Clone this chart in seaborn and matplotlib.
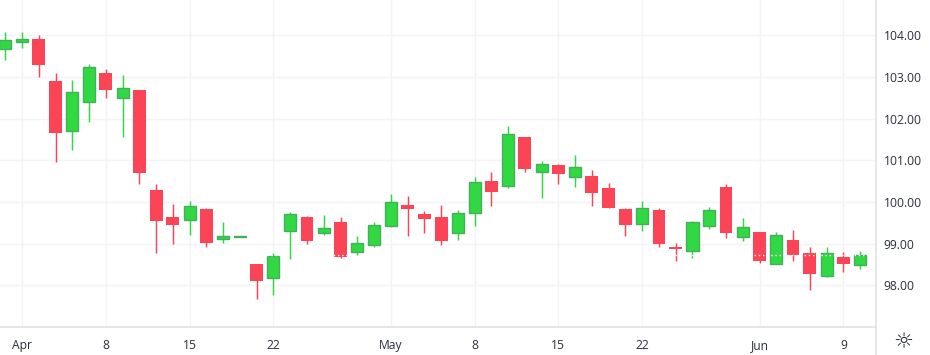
import numpy as np
import pandas as pd
import matplotlib
matplotlib.use('Agg')
import matplotlib.pyplot as plt
import seaborn as sns

# --- Data ---
highs = [104.08, 104.08, 104.01, 103.10, 102.93, 103.31, 103.19, 103.05, 102.69, 100.43,
         99.95, 100.02, 99.86, 99.52, 99.18, 98.51, 98.78, 99.76, 99.66, 99.69,
         99.64, 99.18, 99.52, 100.19, 100.14, 99.78, 99.93, 99.81, 100.60, 100.72,
         101.82, 101.56, 100.98, 100.91, 101.13, 100.77, 100.46, 99.86, 100.02, 99.86,
         99.02, 99.54, 99.88, 100.43, 99.62, 99.28, 99.28, 99.33, 98.92, 98.92,
         98.80, 98.82]
body_tops = [103.89, 103.91, 103.91, 102.90, 102.64, 103.24, 103.10, 102.74, 102.69, 100.29,
             99.64, 99.90, 99.83, 99.18, 99.18, 98.51, 98.70, 99.71, 99.64, 99.38,
             99.52, 99.02, 99.45, 100.00, 99.93, 99.71, 99.64, 99.74, 100.48, 100.50,
             101.63, 101.56, 100.91, 100.89, 100.84, 100.62, 100.34, 99.83, 99.86, 99.81,
             98.92, 99.52, 99.81, 100.36, 99.40, 99.28, 99.21, 99.09, 98.78, 98.78,
             98.68, 98.73]
body_bottoms = [103.68, 103.85, 103.29, 101.66, 101.71, 102.41, 102.69, 102.50, 100.70, 99.54,
                99.45, 99.58, 99.02, 99.11, 99.16, 98.10, 98.18, 99.31, 99.06, 99.26,
                98.68, 98.80, 98.97, 99.42, 99.83, 99.59, 99.06, 99.26, 99.74, 100.24,
                100.38, 100.79, 100.72, 100.67, 100.60, 100.22, 99.86, 99.45, 99.48, 98.99,
                98.87, 98.82, 99.42, 99.26, 99.16, 98.58, 98.51, 98.73, 98.27, 98.22,
                98.51, 98.48]
lows = [103.41, 103.70, 103.00, 100.96, 101.25, 101.92, 102.50, 101.56, 100.43, 98.78,
        98.99, 99.21, 98.92, 99.02, 99.16, 97.67, 97.77, 98.63, 98.99, 99.21,
        98.66, 98.73, 98.92, 99.40, 99.18, 99.26, 98.97, 99.09, 99.42, 99.90,
        100.34, 100.72, 100.10, 100.43, 100.36, 99.90, 99.86, 99.18, 99.30, 98.92,
        98.58, 98.66, 99.35, 99.14, 99.06, 98.54, 98.51, 98.58, 97.89, 98.20,
        98.32, 98.39]
up_days = [0, 1, 4, 5, 7, 11, 13, 14, 16, 17, 19, 21, 22, 23, 27, 28, 30, 32, 34, 38,
           41, 42, 44, 46, 49, 51]

x_tick_pos = [1, 6, 11, 16, 23, 28, 33, 38, 45, 50]
x_tick_labels = ['Apr', '8', '15', '22', 'May', '8', '15', '22', 'Jun', '9']
y_ticks = [98, 99, 100, 101, 102, 103, 104]
last_price = 98.72

RED = '#FB4455'
GREEN = '#30D942'
GREEN_EDGE = '#45AE5C'

# --- Build tables ---
df = pd.DataFrame({'day': np.arange(len(highs)), 'high': highs, 'top': body_tops,
                   'bottom': body_bottoms, 'low': lows})
df['up'] = df['day'].isin(up_days)
df['height'] = df['top'] - df['bottom']

wicks = df.melt(id_vars=['day', 'up'], value_vars=['high', 'low'], value_name='price')
wicks = wicks.sort_values(['day', 'variable'])

# --- Plot ---
sns.set_theme(style='white')
plt.rcParams['font.family'] = ['Open Sans', 'DejaVu Sans']

fig = plt.figure(figsize=(9.3, 3.55), dpi=100)
ax = fig.add_axes([0, 1 - 327 / 355, 875.5 / 930, 327 / 355])

sns.lineplot(data=wicks, x='day', y='price', units='day', estimator=None, hue='up',
             palette={True: GREEN, False: RED}, sort=False, legend=False,
             linewidth=1.05, solid_capstyle='butt', ax=ax, zorder=2)

up = df[df['up']]
down = df[~df['up']]
sns.barplot(data=down, x='day', y='height', bottom=down['bottom'].values, native_scale=True,
            color=RED, saturation=1, width=0.77, errorbar=None, linewidth=0, ax=ax, zorder=3)
sns.barplot(data=up, x='day', y='height', bottom=up['bottom'].values, native_scale=True,
            color=GREEN, saturation=1, width=0.72, errorbar=None, linewidth=1,
            edgecolor=GREEN_EDGE, ax=ax, zorder=3)

ax.axhline(last_price, color='white', linewidth=1, linestyle=(0, (1, 2)), zorder=4)

ax.set_xlim(-0.316, 51.92)
ax.set_ylim(97.0, 104.848)
ax.set_xticks(x_tick_pos)
ax.set_xticklabels(x_tick_labels)
ax.set_yticks(y_ticks)
ax.set_yticklabels([f'{v:.2f}' for v in y_ticks])
ax.yaxis.tick_right()
ax.set_xlabel('')
ax.set_ylabel('')
ax.grid(True, color='#F3F4F7', linewidth=1)
ax.set_axisbelow(True)
ax.tick_params(axis='both', length=0, labelsize=8.7, labelcolor='#2A2E39')
ax.tick_params(axis='x', pad=16)
ax.tick_params(axis='y', pad=6)
for lab in ax.get_xticklabels():
    lab.set_verticalalignment('baseline')
for lab in ax.get_yticklabels():
    lab.set_verticalalignment('center_baseline')
for side in ['top', 'left']:
    ax.spines[side].set_visible(False)
for side in ['right', 'bottom']:
    ax.spines[side].set_color('#DFE1E6')
    ax.spines[side].set_linewidth(1.2)
    ax.spines[side].set_visible(True)

# vertical divider runs on down past the axis, settings icon in the corner
fig.add_artist(plt.Line2D([875.5 / 930, 875.5 / 930], [0, 28 / 355], color='#DFE1E6', linewidth=1.2))
fig.text(903 / 930, 13 / 355, '☼', ha='center', va='center', fontsize=16, color='#2A2E39',
         family='DejaVu Sans')

fig.savefig('out.png', dpi=100)
